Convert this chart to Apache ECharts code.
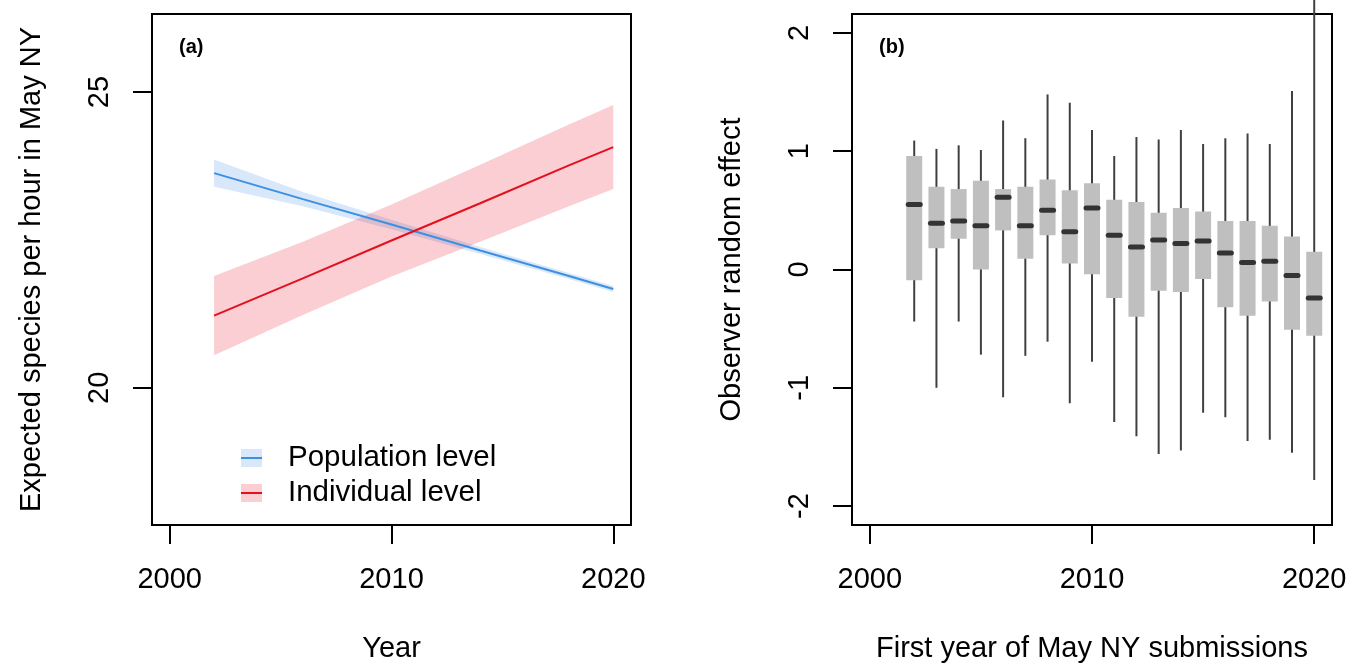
<!DOCTYPE html>
<html>
<head>
<meta charset="utf-8">
<script src="https://cdn.jsdelivr.net/npm/echarts@6/dist/echarts.min.js"></script>
<style>
html,body{margin:0;padding:0;background:#fff;}
#chart{width:1359px;height:668px;}
</style>
</head>
<body>
<div id="chart"></div>
<script>
// ---------- Panel (a) data ----------
var bandYears = [2002, 2006, 2010, 2014, 2018, 2020];
var popMean   = [23.63, 23.19, 22.76, 22.32, 21.89, 21.67];
var popHalf   = [0.23, 0.12, 0.08, 0.06, 0.05, 0.05];
var indMean   = [21.22, 21.85, 22.49, 23.12, 23.76, 24.07];
var indHalf   = [0.67, 0.62, 0.61, 0.65, 0.69, 0.71];
var xTicksA   = [2000, 2010, 2020];
var yTicksA   = [20, 25];
var legendNames = ['Population level', 'Individual level'];

// ---------- Panel (b) data ----------
var boxYears  = [2002,2003,2004,2005,2006,2007,2008,2009,2010,2011,2012,2013,2014,2015,2016,2017,2018,2019,2020];
var whiskLow  = [-0.44,-1.00,-0.44,-0.72,-1.08,-0.73,-0.61,-1.13,-0.78,-1.29,-1.41,-1.56,-1.53,-1.21,-1.25,-1.45,-1.44,-1.55,-1.78];
var q1        = [-0.09, 0.18, 0.26, 0.00, 0.33, 0.09, 0.29, 0.05,-0.04,-0.24,-0.40,-0.18,-0.19,-0.08,-0.32,-0.39,-0.27,-0.51,-0.56];
var medians   = [ 0.55, 0.39, 0.41, 0.37, 0.61, 0.37, 0.50, 0.32, 0.52, 0.29, 0.19, 0.25, 0.22, 0.24, 0.14, 0.06, 0.07,-0.05,-0.24];
var q3        = [ 0.96, 0.70, 0.68, 0.75, 0.68, 0.70, 0.76, 0.67, 0.73, 0.59, 0.57, 0.48, 0.52, 0.49, 0.41, 0.41, 0.37, 0.28, 0.15];
var whiskHigh = [ 1.09, 1.02, 1.05, 1.01, 1.26, 1.11, 1.48, 1.41, 1.18, 0.96, 1.12, 1.10, 1.18, 1.06, 1.11, 1.15, 1.06, 1.51, 2.28];
var xTicksB   = [2000, 2010, 2020];
var yTicksB   = [-2, -1, 0, 1, 2];

var FONT = '"Liberation Sans", Arial, Helvetica, sans-serif';
var chart = echarts.init(document.getElementById('chart'), null, {renderer: 'canvas'});

function bandData(mean, half) {
  return bandYears.map(function (y, i) { return [y, mean[i] - half[i], mean[i] + half[i]]; });
}
function lineData(mean) {
  return bandYears.map(function (y, i) { return [y, mean[i]]; });
}
function bandSeries(mean, half, fill) {
  var d = bandData(mean, half);
  return {
    type: 'custom', xAxisIndex: 0, yAxisIndex: 0, silent: true,
    data: d,
    encode: {x: 0, y: [1, 2]},
    renderItem: function (params, api) {
      if (params.dataIndex !== 0) return null;
      var pts = [], i;
      for (i = 0; i < d.length; i++) pts.push(api.coord([d[i][0], d[i][2]]));
      for (i = d.length - 1; i >= 0; i--) pts.push(api.coord([d[i][0], d[i][1]]));
      return {type: 'polygon', shape: {points: pts}, style: {fill: fill, stroke: null}};
    }
  };
}

function plain(v) { return String(v); }
var axisLabelStyle = {color: '#000', fontSize: 29, fontFamily: FONT, formatter: plain};
var tickStyle = {show: true, length: 19, lineStyle: {color: '#000', width: 2}};
var noLine = {show: false, onZero: false};
var nameStyle = {color: '#000', fontSize: 29, fontFamily: FONT};

var option = {
  animation: false,
  backgroundColor: '#fff',
  grid: [
    {left: 152, right: 728, top: 14, bottom: 140, show: true, borderColor: '#000', borderWidth: 2, backgroundColor: 'transparent'},
    {left: 852, right: 27, top: 14, bottom: 140, show: true, borderColor: '#000', borderWidth: 2, backgroundColor: 'transparent'}
  ],
  xAxis: [
    {type: 'value', gridIndex: 0, min: 1999.2, max: 2020.8,
     name: 'Year', nameLocation: 'middle', nameGap: 109, nameTextStyle: nameStyle,
     axisLine: noLine, splitLine: {show: false},
     axisTick: Object.assign({customValues: xTicksA}, tickStyle),
     axisLabel: Object.assign({customValues: xTicksA, margin: 40}, axisLabelStyle)},
    {type: 'value', gridIndex: 1, min: 1999.2, max: 2020.8,
     name: 'First year of May NY submissions', nameLocation: 'middle', nameGap: 109, nameTextStyle: nameStyle,
     axisLine: noLine, splitLine: {show: false},
     axisTick: Object.assign({customValues: xTicksB}, tickStyle),
     axisLabel: Object.assign({customValues: xTicksB, margin: 40}, axisLabelStyle)}
  ],
  yAxis: [
    {type: 'value', gridIndex: 0, min: 17.68, max: 26.32,
     name: 'Expected species per hour in May NY', nameLocation: 'middle', nameGap: 106, nameTextStyle: nameStyle,
     axisLine: noLine, splitLine: {show: false},
     axisTick: Object.assign({customValues: yTicksA}, tickStyle),
     axisLabel: Object.assign({customValues: yTicksA, margin: 38, rotate: 90}, axisLabelStyle)},
    {type: 'value', gridIndex: 1, min: -2.16, max: 2.16,
     name: 'Observer random effect', nameLocation: 'middle', nameGap: 106, nameTextStyle: nameStyle,
     axisLine: noLine, splitLine: {show: false},
     axisTick: Object.assign({customValues: yTicksB}, tickStyle),
     axisLabel: Object.assign({customValues: yTicksB, margin: 38, rotate: 90}, axisLabelStyle)}
  ],
  series: [
    bandSeries(popMean, popHalf, 'rgba(60,140,230,0.2)'),
    {type: 'line', name: legendNames[0], xAxisIndex: 0, yAxisIndex: 0, data: lineData(popMean),
     showSymbol: false, silent: true, lineStyle: {color: '#3d8fe0', width: 2}},
    bandSeries(indMean, indHalf, 'rgba(230,30,50,0.22)'),
    {type: 'line', name: legendNames[1], xAxisIndex: 0, yAxisIndex: 0, data: lineData(indMean),
     showSymbol: false, silent: true, lineStyle: {color: '#e3101e', width: 2}},
    {type: 'custom', xAxisIndex: 1, yAxisIndex: 1, silent: true, clip: false,
     data: boxYears.map(function (y, i) { return [y, whiskLow[i], q1[i], medians[i], q3[i], whiskHigh[i]]; }),
     encode: {x: 0, y: [1, 2, 3, 4, 5]},
     renderItem: function (params, api) {
       var x = api.value(0);
       var lo = api.coord([x, api.value(1)]);
       var b1 = api.coord([x, api.value(2)]);
       var md = api.coord([x, api.value(3)]);
       var b3 = api.coord([x, api.value(4)]);
       var hi = api.coord([x, api.value(5)]);
       var half = (api.size([0.72, 0])[0]) / 2;
       return {type: 'group', children: [
         {type: 'line', shape: {x1: lo[0], y1: lo[1], x2: hi[0], y2: hi[1]},
          style: {stroke: '#404040', lineWidth: 2}},
         {type: 'rect', shape: {x: b3[0] - half, y: b3[1], width: half * 2, height: b1[1] - b3[1]},
          style: {fill: '#bfbfbf', stroke: null}},
         {type: 'line', shape: {x1: md[0] - half + 2, y1: md[1], x2: md[0] + half - 2, y2: md[1]},
          style: {stroke: '#333333', lineWidth: 5, lineCap: 'round'}}
       ]};
     }}
  ],
  graphic: [
    {type: 'text', left: 179, top: 37, style: {text: '(a)', font: 'bold 20px ' + FONT, fill: '#000'}},
    {type: 'text', left: 879, top: 37, style: {text: '(b)', font: 'bold 20px ' + FONT, fill: '#000'}},
    {type: 'rect', shape: {x: 241, y: 449, width: 21, height: 18}, style: {fill: 'rgba(60,140,230,0.2)'}},
    {type: 'line', shape: {x1: 241, y1: 458, x2: 262, y2: 458}, style: {stroke: '#3d8fe0', lineWidth: 2}},
    {type: 'rect', shape: {x: 241, y: 484, width: 21, height: 18}, style: {fill: 'rgba(230,30,50,0.22)'}},
    {type: 'line', shape: {x1: 241, y1: 493, x2: 262, y2: 493}, style: {stroke: '#e3101e', lineWidth: 2}},
    {type: 'text', left: 288, top: 443, style: {text: legendNames[0], font: '29.5px ' + FONT, fill: '#000'}},
    {type: 'text', left: 288, top: 478, style: {text: legendNames[1], font: '29.5px ' + FONT, fill: '#000'}}
  ]
};
chart.setOption(option);
</script>
</body>
</html>
